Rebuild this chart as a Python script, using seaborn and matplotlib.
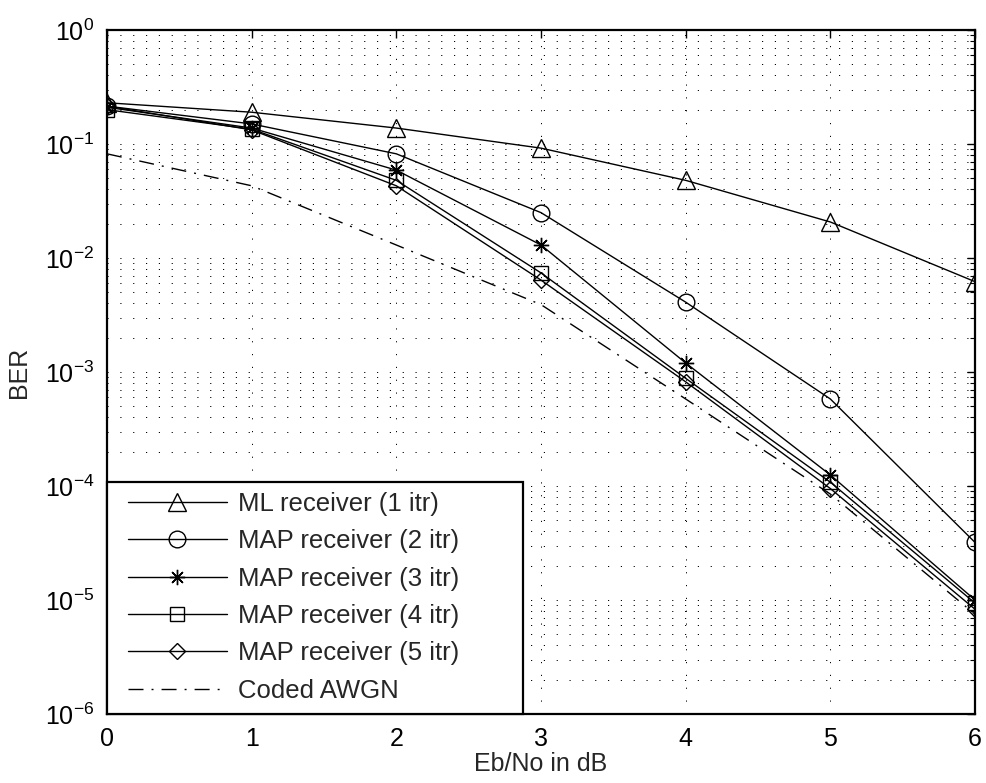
import numpy as np
import pandas as pd
import matplotlib
matplotlib.use("Agg")
import matplotlib.pyplot as plt
import seaborn as sns
from matplotlib.patches import Rectangle
from matplotlib.ticker import LogFormatterSciNotation, NullFormatter, FixedLocator

# ---- data ----
ebno = [0, 1, 2, 3, 4, 5, 6]
ml_1itr = [0.23, 0.19, 0.138, 0.092, 0.048, 0.0207, 0.0062]
map_2itr = [0.215, 0.15, 0.082, 0.025, 0.0041, 0.00058, 3.2e-5]
map_3itr = [0.21, 0.138, 0.059, 0.013, 0.0012, 0.000125, 1.0e-5]
map_4itr = [0.2, 0.135, 0.048, 0.0074, 0.00088, 0.000108, 9.4e-6]
map_5itr = [0.215, 0.133, 0.043, 0.0064, 0.00082, 9.5e-5, 8.3e-6]
coded_awgn = [0.082, 0.043, 0.013, 0.0039, 0.00058, 8.5e-5, 7.5e-6]

labels = ["ML receiver (1 itr)", "MAP receiver (2 itr)", "MAP receiver (3 itr)",
          "MAP receiver (4 itr)", "MAP receiver (5 itr)", "Coded AWGN"]
x_ticks = [0, 1, 2, 3, 4, 5, 6]
y_ticks = [1e-6, 1e-5, 1e-4, 1e-3, 1e-2, 1e-1, 1e0]

sns.set_style("white")
plt.rcParams['font.family'] = ['Liberation Sans', 'DejaVu Sans']
plt.rcParams['mathtext.fontset'] = 'custom'
plt.rcParams['mathtext.rm'] = 'Liberation Sans'
plt.rcParams['mathtext.it'] = 'Liberation Sans'

fig = plt.figure(figsize=(9.87, 7.83), dpi=100)
ax = fig.add_axes([107/987, 1 - 714/783, (975-107)/987, (714-30)/783])

series = [ml_1itr, map_2itr, map_3itr, map_4itr, map_5itr]
markers = ['^', 'o', (8, 2, 0), 's', 'D']
msizes = [12.5, 12, 11, 9.5, 7.8]
for vals, lab, mk, ms in zip(series, labels[:5], markers, msizes):
    df = pd.DataFrame({"x": ebno, "y": vals})
    sns.lineplot(data=df, x="x", y="y", ax=ax, color='black', lw=1.0,
                 marker=mk, markersize=ms, markerfacecolor='none',
                 markeredgecolor='black', markeredgewidth=1.0, label=lab,
                 legend=False, zorder=3)
df = pd.DataFrame({"x": ebno, "y": coded_awgn})
sns.lineplot(data=df, x="x", y="y", ax=ax, color='black', lw=1.0,
             linestyle=(0, (10.8, 5.8, 1.4, 5.8)), label=labels[5],
             legend=False, zorder=3)

ax.set_yscale('log')
ax.set_xlim(0, 6)
ax.set_ylim(1e-6, 1)
ax.xaxis.set_major_locator(FixedLocator(x_ticks))
ax.yaxis.set_major_locator(FixedLocator(y_ticks))
ax.yaxis.set_major_formatter(LogFormatterSciNotation())
minor_y = [m * d for d in y_ticks[:-1] for m in range(2, 10)]
ax.yaxis.set_minor_locator(FixedLocator(minor_y))
ax.yaxis.set_minor_formatter(NullFormatter())

grid_ls = (0, (1.2, 12))
ax.grid(True, which='major', axis='both', color='black', lw=0.7, linestyle=grid_ls)
ax.grid(True, which='minor', axis='y', color='black', lw=0.7, linestyle=grid_ls)

ax.tick_params(which='both', direction='in', top=True, right=True,
               labelsize=18, colors='black')
ax.tick_params(which='major', length=6, width=1.0, pad=9)
ax.tick_params(which='minor', length=3.5, width=0.8)
for s in ax.spines.values():
    s.set_linewidth(1.6)
    s.set_color('black')

ax.set_xlabel("Eb/No in dB", fontsize=18, labelpad=1)
ax.set_ylabel("BER", fontsize=18, labelpad=10)

# legend box (MATLAB-style) and legend
rect = Rectangle((0, 0), (523-107)/868, (714-482)/684, transform=ax.transAxes,
                 facecolor='white', edgecolor='black', lw=1.6, zorder=4.5,
                 clip_on=False)
ax.add_patch(rect)
h, l = ax.get_legend_handles_labels()
leg = ax.legend(h, l, loc='upper left', bbox_to_anchor=(21/868, (714-492)/684),
                frameon=False, fontsize=18.5, borderpad=0, borderaxespad=0,
                handlelength=3.85, handletextpad=0.45, labelspacing=0.52)
leg.set_zorder(5)

fig.savefig("out.png", dpi=100)
